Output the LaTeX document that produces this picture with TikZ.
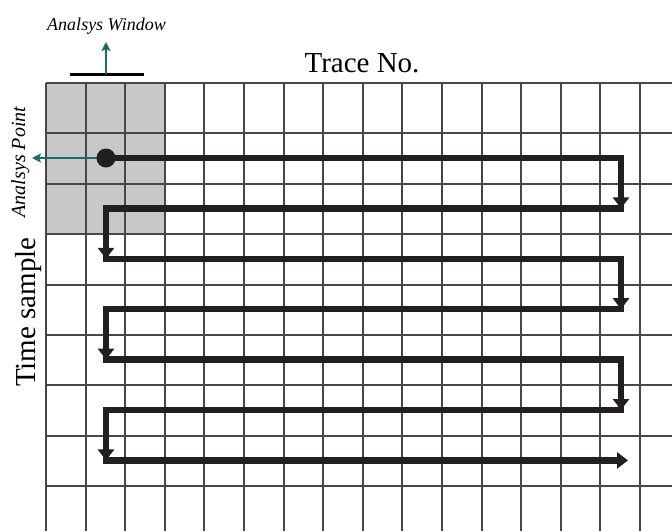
\documentclass[tikz,border=0pt]{standalone}
\usepackage{fontspec}
\setmainfont{Liberation Serif}
\usetikzlibrary{arrows.meta}
\definecolor{cellgrey}{HTML}{C8C8C8}
\definecolor{pointc}{HTML}{1A6B6B}
\definecolor{pathc}{HTML}{231F20}

\begin{document}
\begin{tikzpicture}[
  x=1pt, y=-1pt,
  gridln/.style={draw=black!72, line width=1.9pt},
  snake/.style={draw=pathc, line width=6.5pt, line join=miter},
  snaketip/.style={-{Triangle[length=11pt, width=16pt]}},
  tealarr/.style={-{Stealth[length=9pt, width=9pt, inset=2pt]}, draw=pointc, line width=2.5pt},
  axlbl/.style={font=\fontsize{29}{32}\selectfont, inner sep=0pt},
  tag/.style={font=\fontsize{18}{20}\selectfont\itshape, inner sep=0pt}
]
  \useasboundingbox (0,0) rectangle (672,531);

  % cells inside the analysis window
  \fill[cellgrey] (46,83) rectangle (164.8,234.2);

  % grid
  \foreach \i in {0,...,15}
    \draw[gridln] ({46+39.6*\i},83) -- ({46+39.6*\i},531);
  \foreach \j in {0,...,8}
    \draw[gridln] (46,{83+50.4*\j}) -- (672,{83+50.4*\j});

  % scan path
  \foreach \r in {0,...,6} {
    \coordinate (L\r) at (106,{158+50.4*\r});
    \coordinate (R\r) at (621,{158+50.4*\r});
  }
  \coordinate (stop) at (628,{158+50.4*6});
  \draw[snake, snaketip] (L0) -- (R0) -- (R1) -- (L1) -- (L2) -- (R2) -- (R3)
    -- (L3) -- (L4) -- (R4) -- (R5) -- (L5) -- (L6) -- (stop);
  \foreach \a/\b in {R0/R1, L1/L2, R2/R3, L3/L4, R4/R5, L5/L6}
    \draw[snake, snaketip] (\a) -- (\b);

  % analysis point
  \coordinate (ptip) at (32,158);
  \draw[tealarr] (L0) -- (ptip);
  \node[circle, fill=pathc, minimum size=19pt, inner sep=0pt] (apoint) at (L0) {};
  \node[tag, rotate=90, anchor=base, font=\fontsize{20}{22}\selectfont\itshape] (pointlbl)
    at (25,162) {Analsys Point};

  % analysis window
  \coordinate (wl) at (70,74);
  \coordinate (wr) at (144,74);
  \coordinate (wmid) at (106,74);
  \coordinate (wtip) at (106,42);
  \draw[draw=black, line width=3pt] (wl) -- (wr);
  \draw[tealarr] (wmid) -- (wtip);
  \node[tag, anchor=base] (winlbl) at (106.5,30) {Analsys Window};

  \node[axlbl, anchor=base] (trace) at (362,72) {Trace No.};
  \node[axlbl, rotate=90, anchor=base] (time) at (35,312) {Time sample};
\end{tikzpicture}
\end{document}
